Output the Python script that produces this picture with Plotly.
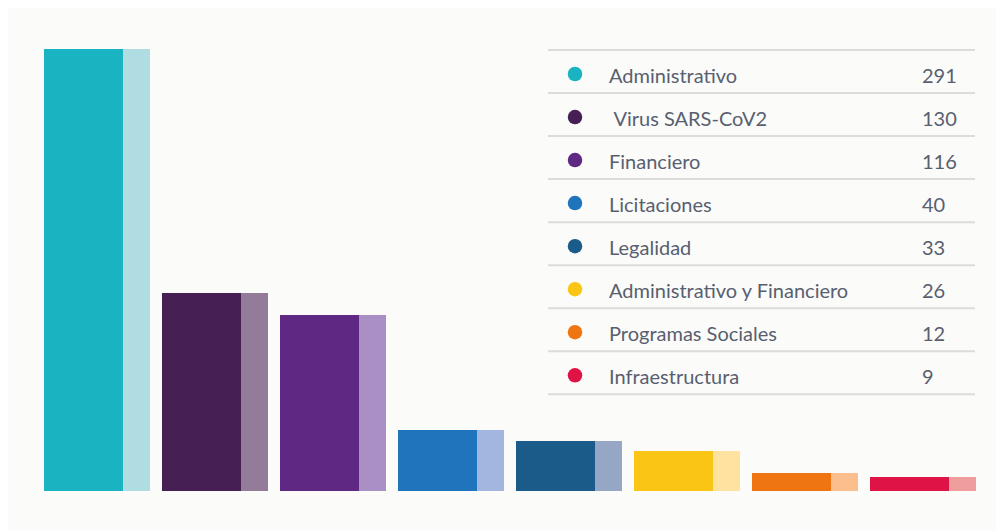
import plotly.graph_objects as go

categories = ["Administrativo", " Virus SARS-CoV2", "Financiero", "Licitaciones",
              "Legalidad", "Administrativo y Financiero", "Programas Sociales", "Infraestructura"]
values = [291, 130, 116, 40, 33, 26, 12, 9]
dark_colors = ["#19b3c1", "#462055", "#5f2883", "#1f74bb", "#1b5b8a", "#fbc515", "#ef7512", "#e01347"]
light_colors = ["#afdde2", "#937c9a", "#a98fc4", "#a2b6e0", "#95a7c4", "#ffe29f", "#fbbe8c", "#f09d9e"]

# page is offset by the 8px body margin, so the figure is 8px smaller
OFF = 8
W, H = 1004 - OFF, 531 - OFF
# plot area in page pixels: x 38..982, y 35..491
PX0, PX1, PY0, PY1 = 38, 982, 35, 491
ML, MR, MT, MB = PX0 - OFF, (W + OFF) - PX1, PY0 - OFF, (H + OFF) - PY1
BG = "#fbfbf9"
TXT = "#586070"
FONT = "Lato"

xs = list(range(len(values)))

fig = go.Figure()
fig.add_trace(go.Bar(x=xs, y=values, offset=-0.449, width=0.669,
                     marker=dict(color=dark_colors, line=dict(width=0)),
                     hoverinfo="skip", showlegend=False))
fig.add_trace(go.Bar(x=xs, y=values, offset=0.220, width=0.229,
                     marker=dict(color=light_colors, line=dict(width=0)),
                     hoverinfo="skip", showlegend=False))

# legend table on an overlay axis in page-pixel-like coordinates
row_pitch = 43.04
line_top = 50
row_centers = [line_top + 24 + row_pitch * i for i in range(len(values))]
fig.add_trace(go.Scatter(x=[575] * len(values), y=row_centers, mode="markers",
                         marker=dict(size=14.5, color=dark_colors, line=dict(width=0)),
                         xaxis="x2", yaxis="y2", hoverinfo="skip", showlegend=False))

shapes = []
for i in range(len(values) + 1):
    yl = line_top + row_pitch * i
    shapes.append(dict(type="line", xref="x2", yref="y2", x0=548, x1=975, y0=yl, y1=yl,
                       line=dict(color="#dcdcdc", width=2)))

annotations = []
for i, (c, v) in enumerate(zip(categories, values)):
    annotations.append(dict(x=607, y=row_centers[i] + 1, xref="x2", yref="y2", text=c,
                            showarrow=False, xanchor="left", yanchor="middle",
                            font=dict(family=FONT, size=20, color=TXT)))
    annotations.append(dict(x=920, y=row_centers[i] + 1, xref="x2", yref="y2", text=str(v),
                            showarrow=False, xanchor="left", yanchor="middle",
                            font=dict(family=FONT, size=20, color=TXT)))

fig.update_layout(
    width=W, height=H,
    margin=dict(l=ML, r=MR, t=MT, b=MB, pad=0),
    paper_bgcolor=BG, plot_bgcolor=BG,
    barmode="overlay", bargap=0,
    xaxis=dict(range=[-0.5, 7.5], visible=False, fixedrange=True),
    yaxis=dict(range=[0, 300], visible=False, fixedrange=True),
    xaxis2=dict(range=[PX0, PX1], overlaying="x", visible=False, fixedrange=True),
    yaxis2=dict(range=[PY1, PY0], overlaying="y", visible=False, fixedrange=True),
    shapes=shapes,
    annotations=annotations,
    font=dict(family=FONT),
)

fig.write_html("out.html", config={"displayModeBar": False})
